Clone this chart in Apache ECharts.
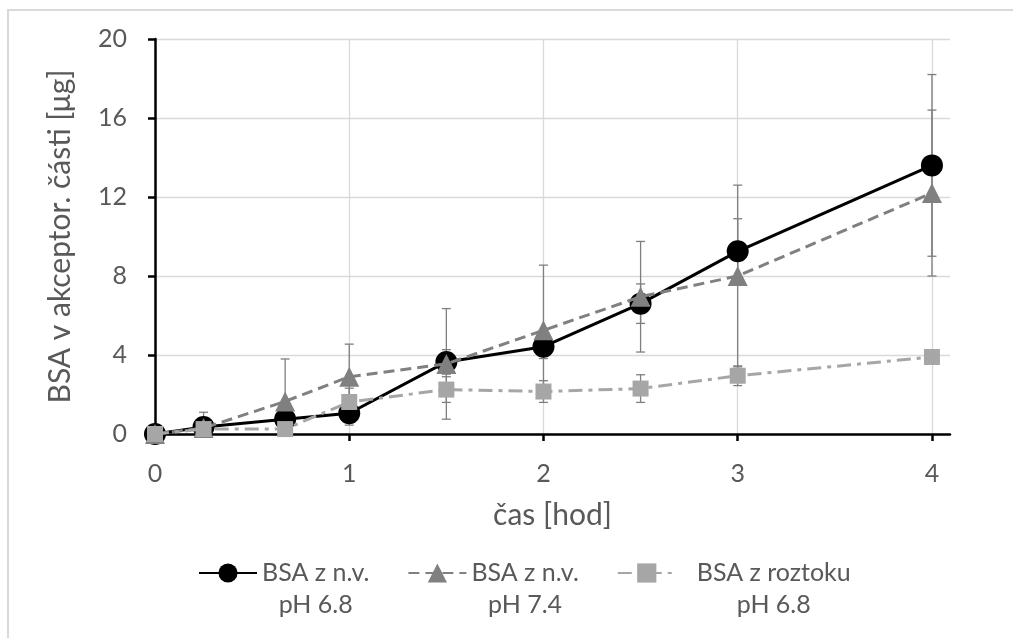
<!DOCTYPE html>
<html>
<head>
<meta charset="utf-8">
<script src="https://cdn.jsdelivr.net/npm/echarts@6/dist/echarts.min.js"></script>
<style>
  html, body { margin: 0; padding: 0; background: #fff; }
  #chart { width: 1013px; height: 638px; }
</style>
</head>
<body>
<div id="chart"></div>
<script>
// čas [hod]
const times = [0, 0.25, 0.67, 1, 1.5, 2, 2.5, 3, 4];
const xTicks = [0, 1, 2, 3, 4];

// BSA z n.v. pH 6.8
const nv68 = [0, 0.35, 0.75, 1.05, 3.65, 4.42, 6.6, 9.25, 13.6];
const nv68Err = [0, 0.2, 0.3, 0.6, 0.62, 0.6, 1.0, 1.65, 4.6];
// BSA z n.v. pH 7.4
const nv74 = [0, 0.3, 1.65, 2.9, 3.55, 5.25, 6.95, 8.0, 12.2];
const nv74Err = [0, 0.8, 2.15, 1.65, 2.8, 3.3, 2.8, 4.6, 4.2];
// BSA z roztoku pH 6.8
const rozt = [0, 0.25, 0.25, 1.62, 2.25, 2.15, 2.3, 2.95, 3.9];
const roztErr = [0, 0.1, 0.15, 0.7, 0.65, 0.55, 0.7, 0.5, 0.15];

const names = ["BSA z n.v.\npH 6.8", "BSA z n.v.\npH 7.4", "BSA z roztoku\npH 6.8"];

const font = "Lato";
const textGray = "#595959";

function errBars(vals, errs, color) {
  return {
    type: "custom",
    silent: true,
    clip: true,
    z: 1,
    encode: { x: 0, y: [1, 2] },
    data: times.map((t, i) => [t, vals[i] - errs[i], vals[i] + errs[i], errs[i]]),
    renderItem: function (params, api) {
      if (!api.value(3)) return null;
      const lo = api.coord([api.value(0), api.value(1)]);
      const hi = api.coord([api.value(0), api.value(2)]);
      const w = 4.5;
      const st = { stroke: color, lineWidth: 1.3 };
      return {
        type: "group",
        children: [
          { type: "line", shape: { x1: lo[0], y1: lo[1], x2: hi[0], y2: hi[1] }, style: st },
          { type: "line", shape: { x1: lo[0] - w, y1: lo[1], x2: lo[0] + w, y2: lo[1] }, style: st },
          { type: "line", shape: { x1: hi[0] - w, y1: hi[1], x2: hi[0] + w, y2: hi[1] }, style: st },
        ],
      };
    },
  };
}

function pts(vals) {
  return times.map((t, i) => [t, vals[i]]);
}

const legendRich = { c: { align: "center", fontFamily: font, fontSize: 25, lineHeight: 32, color: textGray } };

const chart = echarts.init(document.getElementById("chart"));
chart.setOption({
  animation: false,
  backgroundColor: "#fff",
  textStyle: { fontFamily: font },
  graphic: [
    {
      type: "rect",
      shape: { x: 8, y: 10, width: 1040, height: 660 },
      style: { fill: "none", stroke: "#d9d9d9", lineWidth: 2 },
      silent: true,
    },
  ],
  grid: { left: 155, right: 63, top: 39, bottom: 204 },
  legend: {
    left: 193,
    top: 520,
    itemWidth: 58,
    itemHeight: 24,
    itemGap: 38,
    data: [
      { name: names[0] },
      { name: names[1] },
      { name: names[2], textStyle: { padding: [32, 0, 0, 16] } },
    ],
    formatter: function (n) {
      return n.split("\n").map((s) => "{c|" + s + "}").join("\n");
    },
    textStyle: {
      fontFamily: font,
      fontSize: 25,
      color: textGray,
      lineHeight: 32,
      padding: [32, 0, 0, 0],
      rich: legendRich,
    },
  },
  xAxis: {
    type: "value",
    min: 0,
    max: 4.093,
    interval: 1,
    name: "čas [hod]",
    nameLocation: "middle",
    nameGap: 66,
    nameTextStyle: { fontFamily: font, fontSize: 30, color: textGray },
    axisLine: { lineStyle: { color: "#000", width: 2.5 } },
    axisTick: { show: true, inside: false, length: 7, customValues: xTicks, lineStyle: { color: "#000", width: 2.5 } },
    axisLabel: { customValues: xTicks, margin: 27, fontFamily: font, fontSize: 25, color: textGray },
    splitLine: { show: true, lineStyle: { color: "#d9d9d9", width: 1.3 } },
  },
  yAxis: {
    type: "value",
    min: 0,
    max: 20,
    interval: 4,
    name: "BSA v akceptor. části [μg]",
    nameLocation: "middle",
    nameRotate: 90,
    nameGap: 80,
    nameTextStyle: { fontFamily: font, fontSize: 30, color: textGray },
    axisLine: { show: true, lineStyle: { color: "#000", width: 2.5 } },
    axisTick: { show: true, inside: false, length: 7, lineStyle: { color: "#000", width: 2.5 } },
    axisLabel: { margin: 28, fontFamily: font, fontSize: 25, color: textGray },
    splitLine: { show: true, lineStyle: { color: "#d9d9d9", width: 1.3 } },
  },
  series: [
    errBars(nv68, nv68Err, "#7f7f7f"),
    errBars(nv74, nv74Err, "#7f7f7f"),
    errBars(rozt, roztErr, "#7f7f7f"),
    {
      name: names[0],
      type: "line",
      data: pts(nv68),
      symbol: "circle",
      symbolSize: 22,
      z: 3,
      itemStyle: { color: "#000" },
      lineStyle: { color: "#000", width: 3, type: "solid" },
    },
    {
      name: names[1],
      type: "line",
      data: pts(nv74),
      symbol: "triangle",
      symbolSize: 20,
      z: 4,
      itemStyle: { color: "#808080" },
      lineStyle: { color: "#808080", width: 3, type: [11, 6] },
    },
    {
      name: names[2],
      type: "line",
      data: pts(rozt),
      symbol: "rect",
      symbolSize: 16,
      z: 5,
      itemStyle: { color: "#a6a6a6" },
      lineStyle: { color: "#a6a6a6", width: 3, type: [14, 6, 4, 6] },
    },
  ],
});
</script>
</body>
</html>
